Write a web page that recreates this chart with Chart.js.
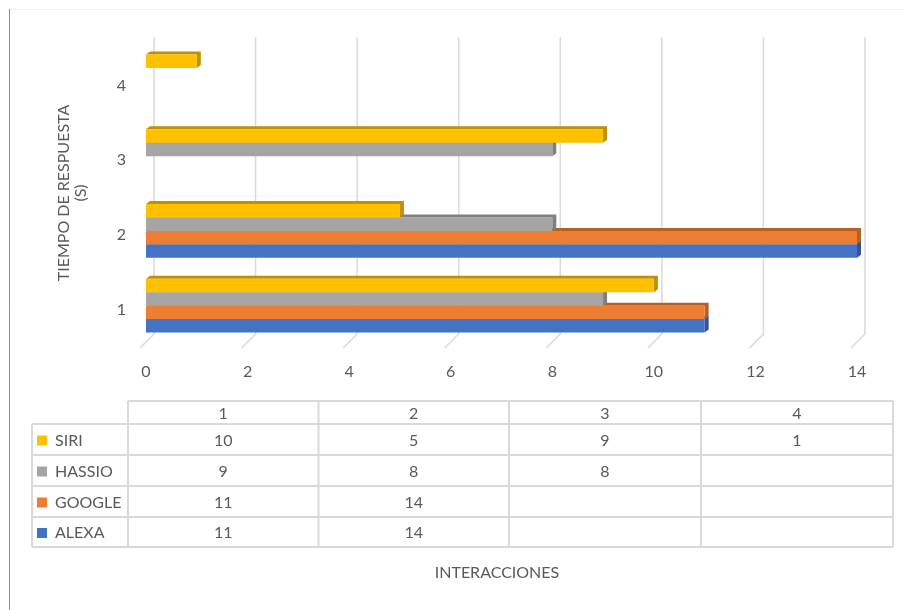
<!DOCTYPE html>
<html>
<head>
<meta charset="utf-8">
<script src="https://cdn.jsdelivr.net/npm/chart.js@4/dist/chart.umd.min.js"></script>
<style>
	html, body { margin: 0; padding: 0; background: #fff; }
	#wrap { width: 904px; height: 610px; }
</style>
</head>
<body>
<div id="wrap"><canvas id="graficoInteracciones" width="904" height="610"></canvas></div>
<script>
var interacciones = ['1', '2', '3', '4'];
var siri = [10, 5, 9, 1];
var hassio = [9, 8, 8, null];
var google = [11, 14, null, null];
var alexa = [11, 14, null, null];
var ticksX = [0, 2, 4, 6, 8, 10, 12, 14];

var FUENTE = 'Lato, "Liberation Sans", sans-serif';
var GRIS_TEXTO = '#595959';
var GRIS_LINEA = '#D9D9D9';

// caras oscuras para el efecto 3D de las barras
var caras = ['#BF9000', '#7F7F7F', '#B85F24', '#2F5597'];

var efecto3D = {
	id: 'efecto3D',
	beforeDatasetsDraw: function(chart) {
		var ctx = chart.ctx;
		var escalaX = chart.scales.x;
		var area = chart.chartArea;

		// lineas de division en la pared del fondo
		ctx.save();
		ctx.strokeStyle = GRIS_LINEA;
		ctx.lineWidth = 1.5;
		ticksX.forEach(function(v) {
			var x = escalaX.getPixelForValue(v);
			ctx.beginPath();
			ctx.moveTo(x + 8, 37);
			ctx.lineTo(x + 8, area.bottom - 9);
			ctx.lineTo(x - 6, area.bottom + 5);
			ctx.stroke();
		});

		// caras superior y lateral, de la serie de abajo hacia arriba
		var d = 4, h = 3;
		for (var i = chart.data.datasets.length - 1; i >= 0; i--) {
			var meta = chart.getDatasetMeta(i);
			ctx.fillStyle = caras[i];
			meta.data.forEach(function(barra, j) {
				if (chart.data.datasets[i].data[j] == null) return;
				var x0 = barra.base, x1 = barra.x;
				var top = barra.y - barra.height / 2;
				var bottom = barra.y + barra.height / 2;
				ctx.beginPath();
				ctx.moveTo(x0, top);
				ctx.lineTo(x0 + d, top - h);
				ctx.lineTo(x1 + d, top - h);
				ctx.lineTo(x1 + d, bottom - h);
				ctx.lineTo(x1, bottom);
				ctx.lineTo(x1, top);
				ctx.closePath();
				ctx.fill();
			});
		}
		ctx.restore();
	},
	afterDraw: function(chart) {
		var ctx = chart.ctx;
		ctx.save();

		// marco del grafico
		ctx.strokeStyle = '#F2F2F2';
		ctx.lineWidth = 1;
		ctx.beginPath();
		ctx.moveTo(9, 9.5);
		ctx.lineTo(904, 9.5);
		ctx.stroke();
		ctx.strokeStyle = '#8C8C8C';
		ctx.beginPath();
		ctx.moveTo(9.5, 9);
		ctx.lineTo(9.5, 610);
		ctx.stroke();

		// titulo del eje vertical
		ctx.fillStyle = GRIS_TEXTO;
		ctx.font = '16px ' + FUENTE;
		ctx.textAlign = 'center';
		ctx.textBaseline = 'middle';
		ctx.save();
		ctx.translate(64, 193);
		ctx.rotate(-Math.PI / 2);
		ctx.fillText('TIEMPO DE RESPUESTA', 0, 0);
		ctx.fillText('(S)', 0, 17);
		ctx.restore();

		// tabla de datos
		var cols = [128, 318.5, 509, 701, 893];
		var filas = [401, 424, 455, 486, 517, 547];
		var izq = 32;
		ctx.strokeStyle = GRIS_LINEA;
		ctx.lineWidth = 2;
		ctx.beginPath();
		filas.forEach(function(y, k) {
			ctx.moveTo(k === 0 ? cols[0] : izq, y);
			ctx.lineTo(cols[cols.length - 1], y);
		});
		cols.forEach(function(x) {
			ctx.moveTo(x, filas[0]);
			ctx.lineTo(x, filas[filas.length - 1]);
		});
		ctx.moveTo(izq, filas[1]);
		ctx.lineTo(izq, filas[filas.length - 1]);
		ctx.stroke();

		interacciones.forEach(function(cat, j) {
			ctx.fillStyle = GRIS_TEXTO;
			ctx.textAlign = 'center';
			ctx.fillText(cat, (cols[j] + cols[j + 1]) / 2, (filas[0] + filas[1]) / 2 + 1);
		});
		chart.data.datasets.forEach(function(ds, i) {
			var yc = (filas[i + 1] + filas[i + 2]) / 2 + 1;
			ctx.fillStyle = ds.backgroundColor;
			ctx.fillRect(37, yc - 5, 10, 10);
			ctx.fillStyle = GRIS_TEXTO;
			ctx.textAlign = 'left';
			ctx.fillText(ds.label, 55, yc);
			ctx.textAlign = 'center';
			ds.data.forEach(function(v, j) {
				if (v == null) return;
				ctx.fillText(String(v), (cols[j] + cols[j + 1]) / 2, yc);
			});
		});

		// titulo del eje horizontal
		ctx.textAlign = 'center';
		ctx.fillText('INTERACCIONES', 497, 573);
		ctx.restore();
	}
};

var grafico = new Chart(document.getElementById('graficoInteracciones').getContext('2d'), {
	type: 'bar',
	data: {
		labels: interacciones,
		datasets: [
			{ label: 'SIRI', data: siri, backgroundColor: '#FFC000' },
			{ label: 'HASSIO', data: hassio, backgroundColor: '#A5A5A5' },
			{ label: 'GOOGLE', data: google, backgroundColor: '#ED7D31' },
			{ label: 'ALEXA', data: alexa, backgroundColor: '#4472C4' }
		]
	},
	options: {
		indexAxis: 'y',
		responsive: false,
		animation: false,
		categoryPercentage: 0.72,
		barPercentage: 1.0,
		layout: { padding: { top: 44, right: 47, left: 0, bottom: 0 } },
		plugins: {
			legend: { display: false },
			tooltip: { enabled: false }
		},
		scales: {
			x: {
				min: 0,
				max: 14,
				grid: { display: false, drawTicks: false },
				border: { display: false },
				afterBuildTicks: function(scale) {
					scale.ticks = ticksX.map(function(v) { return { value: v }; });
				},
				afterFit: function(scale) { scale.height = 267; },
				ticks: { padding: 19, color: GRIS_TEXTO, font: { family: FUENTE, size: 16 } }
			},
			y: {
				reverse: true,
				grid: { display: false, drawTicks: false },
				border: { display: false },
				afterFit: function(scale) { scale.width = 146; },
				ticks: { padding: 20, labelOffset: 4, color: GRIS_TEXTO, font: { family: FUENTE, size: 16 } }
			}
		}
	},
	plugins: [efecto3D]
});
</script>
</body>
</html>
